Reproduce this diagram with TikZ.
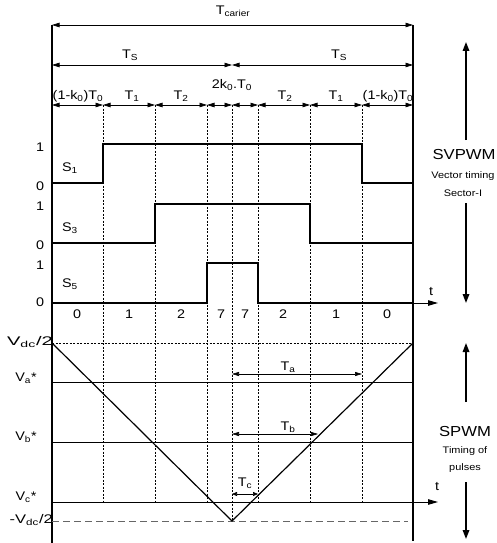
\documentclass[tikz,border=0pt]{standalone}
\usepackage{fontspec}
\usepackage{graphicx}
\setmainfont[FakeStretch=1.15]{Liberation Sans}
\usetikzlibrary{arrows.meta}
\newcommand\lsub[1]{\textsubscript{#1}}
\begin{document}
\begin{tikzpicture}[x=1pt,y=-1pt,
  axisline/.style={line width=1.7pt},
  sig/.style={line width=1.3pt},
  gridl/.style={line width=0.5pt, dash pattern=on 2pt off 1.5pt},
  dim/.style={line width=0.7pt, {Triangle[length=7.5pt,width=4.5pt]}-{Triangle[length=7.5pt,width=4.5pt]}},
  tip/.style={-{Triangle[length=10pt,width=5.5pt]}},
  big/.style={line width=1.6pt, -{Triangle[length=9pt,width=6.5pt]}},
  lbl/.style={font=\fontsize{12.5}{14}\selectfont, inner sep=0pt},
  small/.style={font=\fontsize{9.5}{11}\selectfont, inner sep=0pt},
  mid/.style={font=\fontsize{14.5}{16}\selectfont, inner sep=0pt}]
\useasboundingbox (0,0) rectangle (497,543);
% grid x positions
\def\xa{52}\def\xb{103}\def\xc{155}\def\xd{207}\def\xe{232}\def\xf{258}\def\xg{310}\def\xh{362}\def\xi{413}
% coordinates
\coordinate (LT) at (\xa,25); \coordinate (LB) at (\xa,543);
\coordinate (RT) at (\xi,25); \coordinate (RB) at (\xi,541);
% vertical axes
\draw[axisline] (LT) -- (LB);
\draw[axisline] (RT) -- (RB);
% dimension rows
\draw[dim] (\xa,25) -- (\xi,25);
\node[lbl] (tcar) at (233,11) {T\lsub{carier}};
\draw[dim] (\xa,65) -- (\xe,65);
\draw[dim] (\xe,65) -- (\xi,65);
\node[lbl] (ts1) at (130,55) {T\lsub{S}};
\node[lbl] (ts2) at (339,55) {T\lsub{S}};
\foreach \p/\q in {\xa/\xb,\xb/\xc,\xc/\xd,\xd/\xe,\xe/\xf,\xf/\xg,\xg/\xh,\xh/\xi}
  \draw[dim] (\p,105) -- (\q,105);
\node[lbl] (l1) at (78,96) {(1-k\lsub{0})T\lsub{0}};
\node[lbl] (l2) at (132,96) {T\lsub{1}};
\node[lbl] (l3) at (181,96) {T\lsub{2}};
\node[lbl] (l4) at (232,85) {2k\lsub{0}.T\lsub{0}};
\node[lbl] (l5) at (285,96) {T\lsub{2}};
\node[lbl] (l6) at (336,96) {T\lsub{1}};
\node[lbl] (l7) at (388,96) {(1-k\lsub{0})T\lsub{0}};
% dotted verticals
\foreach \p in {\xb,\xc,\xd,\xf,\xg,\xh}
  \draw[gridl] (\p,105) -- (\p,502);
\draw[gridl] (\xe,105) -- (\xe,521);
% switching signals
\draw[sig] (\xa,183) -- (\xb,183) -- (\xb,144) -- (\xh,144) -- (\xh,183) -- (\xi,183);
\draw[sig] (\xa,243) -- (\xc,243) -- (\xc,204) -- (\xg,204) -- (\xg,243) -- (\xi,243);
\draw[sig] (\xa,303) -- (\xd,303) -- (\xd,263) -- (\xf,263) -- (\xf,303) -- (\xi,303);
\draw[line width=1pt, tip] (\xi,303) -- (438,303);
\node[lbl] (t1) at (431,292) {t};
\node[lbl] (s1) at (70,168) {S\lsub{1}};
\node[lbl] (s3) at (70,228) {S\lsub{3}};
\node[lbl] (s5) at (70,284) {S\lsub{5}};
\foreach \yy/\tx in {147/1,186/0,206/1,245/0,265/1,302/0}
  \node[lbl] at (40,\yy) {\tx};
% sector numbers
\foreach \xx/\tx in {77/0,129/1,181/2,221/7,245/7,283/2,336/1,387/0}
  \node[lbl] at (\xx,314) {\tx};
% SPWM region
\draw[gridl] (\xa,343) -- (\xi,343);
\draw[line width=0.9pt] (\xa,382) -- (\xi,382);
\draw[line width=0.9pt] (\xa,442) -- (\xi,442);
\draw[line width=0.9pt, tip] (\xa,502) -- (438,502);
\node[lbl] (t2) at (437,487) {t};
\draw[line width=0.6pt, gray!80!black, dash pattern=on 7pt off 4pt] (\xa,521) -- (408,521);
% carrier triangle
\coordinate (tri1) at (\xa,343); \coordinate (tri2) at (\xe,521); \coordinate (tri3) at (\xi,343);
\draw[line width=1.2pt] (tri1) -- (tri2) -- (tri3);
% labels
\node[lbl, anchor=east] (vdc) at (53,342) {\scalebox{1.4}[1]{V\lsub{dc}/2}};
\node[lbl] (va) at (26,378) {V\lsub{a}*};
\node[lbl] (vb) at (26,437) {V\lsub{b}*};
\node[lbl] (vc) at (26,497) {V\lsub{c}*};
\node[lbl, anchor=east] (mvdc) at (53,520) {\scalebox{1.15}[1]{-V\lsub{dc}/2}};
% Ta Tb Tc
\draw[line width=0.6pt, {Triangle[length=7pt,width=4pt]}-{Triangle[length=7pt,width=4pt]}] (\xe,374) -- (\xh,374);
\node[lbl] (ta) at (288,367) {T\lsub{a}};
\draw[line width=0.6pt, {Triangle[length=7pt,width=4pt]}-{Triangle[length=7pt,width=4pt]}] (\xe,434) -- (318,434);
\node[lbl] (tb) at (288,427) {T\lsub{b}};
\draw[line width=0.6pt, {Triangle[length=5pt,width=4pt]}-{Triangle[length=5pt,width=4pt]}] (\xe,494) -- (\xf,494);
\node[lbl] (tc) at (245,483) {T\lsub{c}};
% right side annotations
\node[mid] (svp) at (464,155) {SVPWM};
\node[small] (vt) at (463,176) {Vector timing};
\node[small] (sec) at (463,193) {Sector-I};
\draw[big] (466,140) -- (466,42);
\draw[big] (466,203) -- (466,303);
\node[mid] (sp) at (465,432) {SPWM};
\node[small] (tim) at (465,451) {Timing of};
\node[small] (pul) at (465,468) {pulses};
\draw[big] (466,402) -- (466,343);
\draw[big] (466,482) -- (466,539);
\end{tikzpicture}
\end{document}
